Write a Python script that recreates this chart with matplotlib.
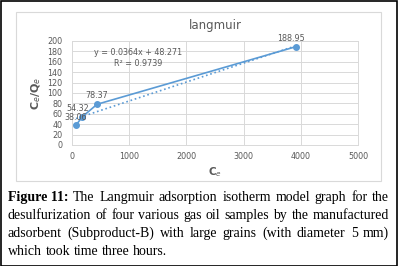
import numpy as np
import matplotlib.pyplot as plt
from matplotlib.patches import Rectangle

# data
ce = [70, 180, 440, 3910]
ce_qe = [38.06, 54.32, 78.37, 188.95]
point_labels = ['38.06', '54.32', '78.37', '188.95']
slope, intercept = 0.0364, 48.271
r2 = 0.9739

caption_lines = [
    ['Figure 11:', 'The Langmuir adsorption isotherm model graph for the'],
    ['', 'desulfurization of four various gas oil samples by the manufactured'],
    ['', 'adsorbent (Subproduct-B) with large grains (with diameter 5 mm)'],
    ['', 'which took time three hours.'],
]

W, H = 398, 266
fig = plt.figure(figsize=(W / 100, H / 100), dpi=100)
fig.patch.set_facecolor('white')

# outer black frame and light chart box
fig.add_artist(Rectangle((0.5 / W, 0.5 / H), 1 - 1.5 / W, 1 - 1.5 / H, transform=fig.transFigure,
                         fill=False, edgecolor='black', lw=1.2))
fig.add_artist(Rectangle((16 / W, 1 - 181 / H), (381 - 16) / W, (181 - 12) / H, transform=fig.transFigure,
                         fill=False, edgecolor='#d9d9d9', lw=0.8))

ax = fig.add_axes([72 / W, 1 - 145 / H, (358 - 72) / W, (145 - 41) / H])
blue = '#5b9bd5'
grey = '#595959'
ax.plot(ce, ce_qe, '-o', color=blue, lw=1.2, ms=4, zorder=3)
xt = np.array([min(ce), max(ce)])
ax.plot(xt, slope * xt + intercept, ':', color=blue, lw=1.2, zorder=2)

offsets = [(0, 2.5), (-3, 3), (0, 3), (-3, 3)]
for x, y, lab, (dx, dy) in zip(ce, ce_qe, point_labels, offsets):
    ax.annotate(lab, (x, y), xytext=(dx, dy), textcoords='offset points',
                ha='center', va='bottom', fontsize=5.8, color=grey)

ax.text(1150, 167, 'y = 0.0364x + 48.271\nR² = %.4f' % r2, ha='center', va='center',
        fontsize=5.8, color=grey, linespacing=1.35)

ax.set_xlim(0, 5000)
ax.set_ylim(0, 200)
ax.set_xticks(range(0, 5001, 1000))
ax.set_yticks(range(0, 201, 20))
ax.grid(True, color='#d9d9d9', lw=0.7)
ax.set_axisbelow(True)
for s in ax.spines.values():
    s.set_color('#d9d9d9')
    s.set_linewidth(0.7)
ax.tick_params(axis='y', length=0, labelsize=5.8, labelcolor=grey, pad=7)
ax.tick_params(axis='x', length=0, labelsize=5.8, labelcolor=grey, pad=5)
ax.set_title('langmuir', fontsize=8.5, color=grey, pad=9)
ax.set_xlabel('C$_e$', fontsize=7.5, fontweight='bold', color=grey, labelpad=3)
ax.set_ylabel('C$_e$/Q$_e$', fontsize=8, fontweight='bold', color=grey, labelpad=3)

# caption, justified line by line
renderer = fig.canvas.get_renderer()
x0, x1 = 8, 389
ys = [201, 219, 237, 255]
fs = 10
for i, (bold, rest) in enumerate(caption_lines):
    words = []
    if bold:
        words.append((bold, 'bold'))
    words += [(w, 'normal') for w in rest.split()]
    texts = []
    total = 0
    for w, fw in words:
        t = fig.text(0, 0, w, fontsize=fs, fontweight=fw, family='Liberation Serif',
                     color='black', va='baseline')
        bb = t.get_window_extent(renderer)
        texts.append((t, bb.width))
        total += bb.width
    last = i == len(caption_lines) - 1
    gap = 3.5 if last else (x1 - x0 - total) / (len(words) - 1)
    x = x0
    for t, wd in texts:
        t.set_position((x / W, 1 - ys[i] / H))
        x += wd + gap

fig.savefig('out.png', dpi=100)
